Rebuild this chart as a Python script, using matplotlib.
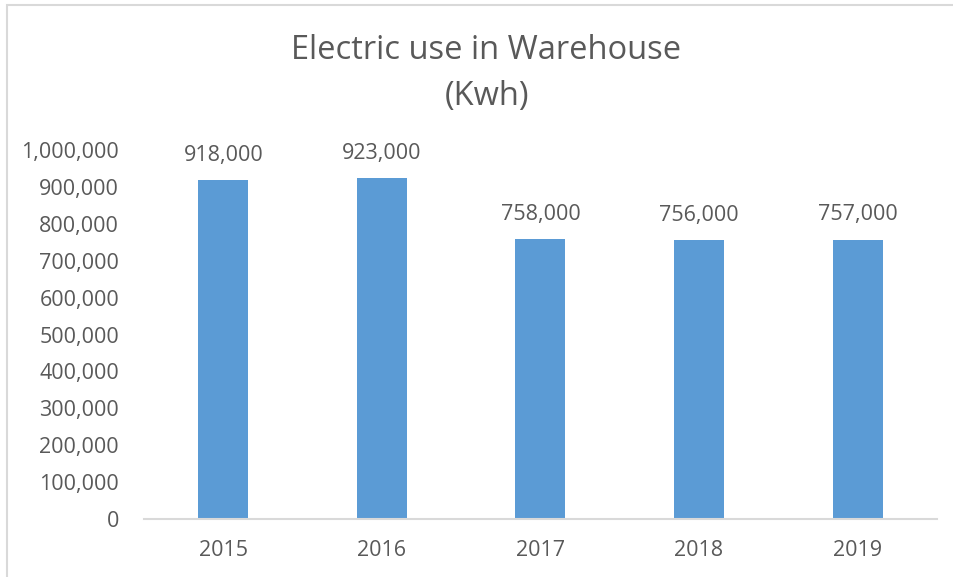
import matplotlib.pyplot as plt
from matplotlib.ticker import FuncFormatter
from matplotlib.patches import Rectangle

years = ['2015', '2016', '2017', '2018', '2019']
usage = [918000, 923000, 758000, 756000, 757000]

bar_color = '#5B9BD5'
text_color = '#595959'
line_color = '#D9D9D9'

plt.rcParams['font.family'] = ['Open Sans', 'DejaVu Sans']

fig = plt.figure(figsize=(9.54, 5.77), dpi=100)
ax = fig.add_axes([0.151, 0.1005, 0.831, 0.6395])

x = range(len(years))
bars = ax.bar(x, usage, width=0.315, color=bar_color)
for b, v in zip(bars, usage):
    ax.annotate(f'{v:,}', (b.get_x() + b.get_width() / 2, v), xytext=(0, 18),
                textcoords='offset points', ha='center', va='center',
                fontsize=15.5, color=text_color)

ax.set_xlim(-0.5, len(years) - 0.5)
ax.set_ylim(0, 1000000)
ax.set_yticks(range(0, 1000001, 100000))
ax.yaxis.set_major_formatter(FuncFormatter(lambda v, p: f'{int(v):,}'))
ax.set_xticks(list(x))
ax.set_xticklabels(years)

for s in ['top', 'right', 'left']:
    ax.spines[s].set_visible(False)
ax.spines['bottom'].set_color(line_color)
ax.spines['bottom'].set_linewidth(1.5)
ax.tick_params(axis='both', length=0, labelsize=15.5, colors=text_color)
ax.tick_params(axis='y', pad=18)
ax.tick_params(axis='x', pad=15)

fig.text(0.510, 0.873, 'Electric use in Warehouse\n(Kwh)', ha='center', va='center',
         fontsize=23.5, color=text_color, linespacing=1.5)

# chart frame
fig.patches.append(Rectangle((7 / 954, -0.05), 1.2, 1.05 - 5 / 577, transform=fig.transFigure,
                             fill=False, edgecolor=line_color, linewidth=1.5))

fig.savefig('out.png', dpi=100)
